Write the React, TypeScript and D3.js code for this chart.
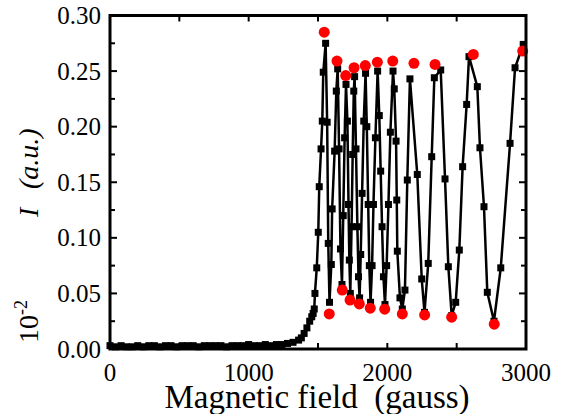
import React from "react";
import * as d3 from "d3";

// Black measured curve: [field (gauss), intensity (10^-2 a.u.)]
const measured: [number, number][] = [
  [0, 0.003], [40, 0.002], [80, 0.003], [120, 0.002], [160, 0.002], [200, 0.003], [240, 0.002],
  [280, 0.003], [320, 0.003], [360, 0.002], [400, 0.003], [440, 0.003], [480, 0.002], [520, 0.003],
  [560, 0.003], [600, 0.003], [640, 0.002], [680, 0.003], [720, 0.003], [760, 0.003], [800, 0.003],
  [840, 0.002], [880, 0.003], [920, 0.003], [960, 0.003], [1000, 0.004], [1040, 0.003], [1080, 0.003],
  [1120, 0.004], [1160, 0.003], [1200, 0.004], [1240, 0.004], [1280, 0.005], [1320, 0.006], [1360, 0.008],
  [1380, 0.010], [1400, 0.014], [1420, 0.019], [1440, 0.025], [1455, 0.029], [1465, 0.032], [1473, 0.036],
  [1478, 0.050], [1491, 0.073], [1502, 0.105], [1509, 0.146], [1522, 0.180], [1531, 0.205], [1538, 0.249],
  [1555, 0.275], [1566, 0.204], [1574, 0.095], [1583, 0.042],
  [1596, 0.076], [1602, 0.126], [1620, 0.178], [1632, 0.232], [1642, 0.252],
  [1652, 0.180], [1662, 0.090], [1673, 0.058],
  [1682, 0.120], [1692, 0.190], [1702, 0.238],
  [1712, 0.205], [1720, 0.130], [1726, 0.080], [1733, 0.050],
  [1742, 0.110], [1750, 0.175], [1758, 0.232], [1764, 0.245],
  [1774, 0.180], [1784, 0.110], [1792, 0.065], [1800, 0.046],
  [1808, 0.085], [1818, 0.140], [1830, 0.205], [1843, 0.248],
  [1852, 0.200], [1862, 0.130], [1870, 0.075], [1879, 0.042],
  [1890, 0.075], [1900, 0.130], [1914, 0.190], [1930, 0.250],
  [1942, 0.210], [1952, 0.160], [1962, 0.110], [1972, 0.065], [1983, 0.040],
  [1995, 0.075], [2008, 0.130], [2022, 0.195], [2041, 0.250],
  [2050, 0.234], [2063, 0.187], [2068, 0.134], [2072, 0.088], [2091, 0.046], [2108, 0.036],
  [2127, 0.053], [2144, 0.152], [2163, 0.243],
  [2216, 0.157], [2248, 0.063], [2268, 0.033],
  [2295, 0.077], [2320, 0.173], [2339, 0.244], [2385, 0.251],
  [2416, 0.153], [2440, 0.074], [2464, 0.030], [2493, 0.042],
  [2519, 0.089], [2543, 0.164], [2572, 0.220], [2589, 0.263],
  [2649, 0.236], [2668, 0.181], [2697, 0.128], [2721, 0.051], [2769, 0.025],
  [2818, 0.073], [2885, 0.185], [2921, 0.253], [2980, 0.274],
];

// Red markers: maxima and minima
const peakField = [1545, 1637, 1700, 1760, 1841, 1928, 2039, 2192, 2344, 2620, 2976];
const peakIntensity = [0.285, 0.259, 0.246, 0.253, 0.255, 0.258, 0.259, 0.257, 0.256, 0.265, 0.268];
const troughField = [1581, 1675, 1731, 1798, 1877, 1981, 2108, 2269, 2464, 2771];
const troughIntensity = [0.0315, 0.053, 0.044, 0.0405, 0.0367, 0.0358, 0.0315, 0.0306, 0.0286, 0.0223];

const xTickLabels = [0, 1000, 2000, 3000];
const xMinorTicks = [500, 1000, 1500, 2000, 2500];
const yTickLabels = [0, 0.05, 0.1, 0.15, 0.2, 0.25, 0.3];
const yMinorTicks = [0.025, 0.05, 0.075, 0.1, 0.125, 0.15, 0.175, 0.2, 0.225, 0.25, 0.275];

const W = 567;
const H = 414;
const L = 110, R = 526, T = 15.5, B = 349;
const FONT = '"Liberation Serif"';

export default function App() {
  const x = d3.scaleLinear().domain([0, 3000]).range([L, R]);
  const y = d3.scaleLinear().domain([0, 0.3]).range([B, T]);
  const line = d3.line<[number, number]>().x((d) => x(d[0])).y((d) => y(d[1]));
  const reds = [
    ...peakField.map((f, i) => [f, peakIntensity[i]] as [number, number]),
    ...troughField.map((f, i) => [f, troughIntensity[i]] as [number, number]),
  ];
  const sq = 7;
  const txt = { fontFamily: FONT, fill: "#000" } as React.CSSProperties;
  return (
    <svg
      width={W}
      height={H}
      style={{ position: "absolute", left: 0, top: 0, display: "block", background: "#fff" }}
    >
      <rect x={0} y={0} width={W} height={H} fill="#fff" />
      <path d={line(measured) || ""} fill="none" stroke="#000" strokeWidth={2.5} />
      {measured.map((d, i) => (
        <rect key={i} x={x(d[0]) - sq / 2} y={y(d[1]) - sq / 2} width={sq} height={sq} fill="#000" />
      ))}
      {reds.map((d, i) => (
        <circle key={i} cx={x(d[0])} cy={y(d[1])} r={5.5} fill="#ff0000" />
      ))}
      {/* frame */}
      <rect x={L} y={T} width={R - L} height={B - T} fill="none" stroke="#000" strokeWidth={3} />
      {/* ticks */}
      {xMinorTicks.map((v) => (
        <g key={"xt" + v}>
          <line x1={x(v)} x2={x(v)} y1={B} y2={B - 6} stroke="#000" strokeWidth={2} />
          <line x1={x(v)} x2={x(v)} y1={T} y2={T + 6} stroke="#000" strokeWidth={2} />
        </g>
      ))}
      {yMinorTicks.map((v) => {
        const major = Math.abs((v * 1000) % 50) < 1e-6;
        const len = major ? 7 : 5;
        return (
          <g key={"yt" + v}>
            <line x1={L} x2={L + len} y1={y(v)} y2={y(v)} stroke="#000" strokeWidth={2} />
            <line x1={R} x2={R - len} y1={y(v)} y2={y(v)} stroke="#000" strokeWidth={2} />
          </g>
        );
      })}
      {xTickLabels.map((v) => (
        <text key={"xl" + v} x={x(v)} y={381} textAnchor="middle" style={{ ...txt, fontSize: 25 }}>
          {v}
        </text>
      ))}
      {yTickLabels.map((v) => (
        <text key={"yl" + v} x={101} y={y(v) + 8.5} textAnchor="end" style={{ ...txt, fontSize: 25 }}>
          {v.toFixed(2)}
        </text>
      ))}
      <text x={317} y={408} textAnchor="middle" style={{ ...txt, fontSize: 33, whiteSpace: "pre" }}>
        {"Magnetic field  (gauss)"}
      </text>
      {/* y-axis title pieces */}
      <text transform="translate(38,343) rotate(-90)" style={{ ...txt, fontSize: 28 }}>
        10
        <tspan style={{ fontSize: 18 }} dy={-11}>-2</tspan>
      </text>
      <text transform="translate(38,217) rotate(-90)" style={{ ...txt, fontSize: 28, fontStyle: "italic" }}>
        I
      </text>
      <text transform="translate(38,189) rotate(-90)" style={{ ...txt, fontSize: 28, fontStyle: "italic" }}>
        {"(a.u.)"}
      </text>
    </svg>
  );
}
